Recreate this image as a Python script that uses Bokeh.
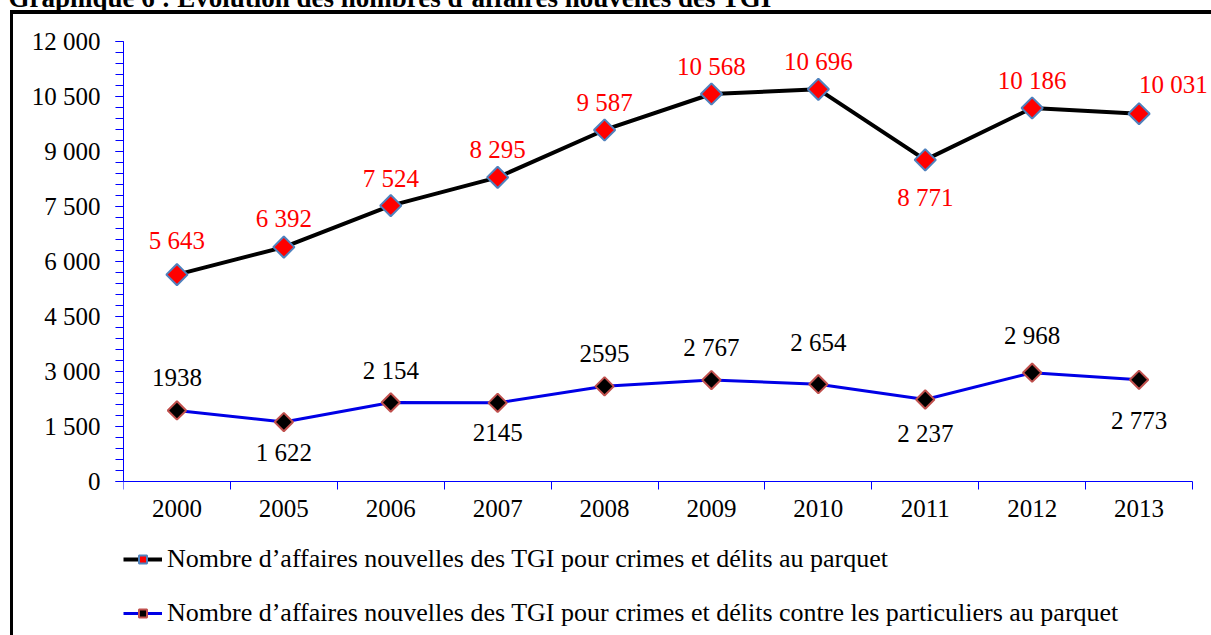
from bokeh.plotting import figure
from bokeh.models import (ColumnDataSource, Range1d, FixedTicker, LabelSet, Legend,
                          LegendItem, Title)
from bokeh.core.properties import value
from bokeh.embed import file_html
from bokeh.resources import INLINE
import numpy as np

# ---------------- data ----------------
years = ["2000", "2005", "2006", "2007", "2008", "2009", "2010", "2011", "2012", "2013"]
crimes_delits = [5643, 6392, 7524, 8295, 9587, 10568, 10696, 8771, 10186, 10031]
crimes_particuliers = [1938, 1622, 2154, 2145, 2595, 2767, 2654, 2237, 2968, 2773]
labels_delits = ["5 643", "6 392", "7 524", "8 295", "9 587", "10 568", "10 696", "8 771", "10 186", "10 031"]
labels_particuliers = ["1938", "1 622", "2 154", "2145", "2595", "2 767", "2 654", "2 237", "2 968", "2 773"]
y_ticks = [0, 1500, 3000, 4500, 6000, 7500, 9000, 10500, 12000]
y_tick_labels = ["0", "1 500", "3 000", "4 500", "6 000", "7 500", "9 000", "10 500", "12 000"]
series_names = [
    "Nombre d\u2019affaires nouvelles des TGI pour crimes et délits au parquet",
    "Nombre d\u2019affaires nouvelles des TGI pour crimes et délits contre les particuliers au parquet",
]
title_text = "Graphique 6 : Évolution des nombres d\u2019affaires nouvelles des TGI"

# label placement (style)
place_delits = ["above"] * 7 + ["below"] + ["above", "above"]
place_particuliers = ["above", "below", "above", "below", "above", "above", "above", "below", "above", "below"]
nudge_delits = [7, 1, 0, 0, 0, 0, 0, 0, 0, 2]          # extra px upwards
nudge_particuliers = [0, 4, 0, 0, 0, 0, 9, 0, 5, -6]
align_delits = ["center"] * 9 + ["left"]
align_particuliers = ["center"] * 10

FONT = "Liberation Serif, Times New Roman, serif"
AXIS_BLUE = "#0000FF"

# ---------------- layout (pixels of the page) ----------------
W = 1211
SHIFT = 50                 # canvas pulled up so the title is cut as in the original
LEFT, AXIS_END = 123, 1192
Y_TOP, Y_ZERO, FRAME_BOTTOM = 41, 481, 640
TITLE_BOTTOM = 12
Y_MAX = 12000

n = len(years)
xpos = [i + 0.5 for i in range(n)]
cat_px = (AXIS_END - LEFT) / n
x_end = (W - LEFT) / cat_px
px_per_unit = (Y_ZERO - Y_TOP) / Y_MAX
y_start = -(FRAME_BOTTOM - Y_ZERO) / px_per_unit


def offsets(places, nudges, up, down):
    return [(up if p == "above" else -down) + d for p, d in zip(places, nudges)]


def baselines(places):
    return ["alphabetic" if p == "above" else "top" for p in places]


src1 = ColumnDataSource(dict(x=xpos, y=crimes_delits, lab=labels_delits,
                             off=offsets(place_delits, nudge_delits, 19, 24),
                             base=baselines(place_delits), align=align_delits))
src2 = ColumnDataSource(dict(x=xpos, y=crimes_particuliers, lab=labels_particuliers,
                             off=offsets(place_particuliers, nudge_particuliers, 24, 21),
                             base=baselines(place_particuliers), align=align_particuliers))

standoff = 2 * (Y_TOP - TITLE_BOTTOM)
p = figure(frame_width=W - LEFT, frame_height=FRAME_BOTTOM - Y_TOP,
           output_backend="svg", toolbar_location=None,
           x_range=Range1d(0, x_end), y_range=Range1d(y_start, Y_MAX),
           min_border_left=LEFT, min_border_right=0, min_border_top=Y_TOP + SHIFT,
           min_border_bottom=0)
p.title = Title(text=title_text, align="left", offset=8 - LEFT, standoff=standoff,
                text_font=FONT, text_font_size="27px", text_font_style="bold",
                text_color="black")
p.outline_line_color = None
p.xgrid.visible = False
p.ygrid.visible = False
p.background_fill_color = None
p.border_fill_color = None
p.styles = {
    "margin-top": f"-{SHIFT}px",
    "background": (f"linear-gradient(#000, #000) 10px {SHIFT + 10}px / 3px 100% no-repeat, "
                   f"linear-gradient(#000, #000) 10px {SHIFT + 10}px / 100% 4px no-repeat, #fff"),
}

# x axis: drawn at y = 0, labels at category centres, ticks at boundaries
xa = p.xaxis[0]
xa.fixed_location = 0
xa.ticker = FixedTicker(ticks=xpos, minor_ticks=list(range(n + 1)))
xa.major_label_overrides = {x: y for x, y in zip(xpos, years)}
xa.bounds = (0, n)
xa.major_tick_out = 0
xa.major_tick_in = 0
xa.minor_tick_out = 8
xa.minor_tick_in = 0
xa.minor_tick_line_color = AXIS_BLUE
xa.axis_line_color = AXIS_BLUE
xa.major_label_text_font = FONT
xa.major_label_text_font_size = "25px"
xa.major_label_text_color = "black"
xa.major_label_standoff = 10

ya = p.yaxis[0]
ya.ticker = FixedTicker(ticks=y_ticks, minor_ticks=list(range(0, Y_MAX + 1, 300)))
ya.major_label_overrides = {t: l for t, l in zip(y_ticks, y_tick_labels)}
ya.bounds = (0, Y_MAX)
ya.major_tick_out = 8
ya.major_tick_in = 0
ya.minor_tick_out = 8
ya.minor_tick_in = 0
ya.major_tick_line_color = AXIS_BLUE
ya.minor_tick_line_color = AXIS_BLUE
ya.axis_line_color = AXIS_BLUE
ya.major_label_text_font = FONT
ya.major_label_text_font_size = "25px"
ya.major_label_text_color = "black"
ya.major_label_standoff = 15

# series
l1 = p.line("x", "y", source=src1, line_color="black", line_width=4)
s1 = p.scatter("x", "y", source=src1, marker="square", angle=np.pi / 4, size=15,
               fill_color="#FF0000", line_color="#4F81BD", line_width=2)
l2 = p.line("x", "y", source=src2, line_color="#0000E6", line_width=3)
s2 = p.scatter("x", "y", source=src2, marker="square", angle=np.pi / 4, size=13,
               fill_color="black", line_color="#C0504D", line_width=2)

p.add_layout(LabelSet(x="x", y="y", text="lab", source=src1, y_offset="off",
                      text_baseline="base", text_align="align",
                      text_font=value(FONT), text_font_size=value("25px"), text_color="#FF0000"))
p.add_layout(LabelSet(x="x", y="y", text="lab", source=src2, y_offset="off",
                      text_baseline="base", text_align="align",
                      text_font=value(FONT), text_font_size=value("25px"), text_color="black"))

legend = Legend(items=[LegendItem(label=series_names[0], renderers=[l1, s1]),
                       LegendItem(label=series_names[1], renderers=[l2, s2])],
                location=(0, 12), orientation="vertical",
                glyph_width=39, glyph_height=20, label_standoff=5, spacing=24,
                padding=0, margin=0, border_line_alpha=0, background_fill_alpha=0,
                label_text_font=FONT, label_text_font_size="26px", label_text_color="black")
p.add_layout(legend)

open("out.html", "w").write(file_html(p, INLINE))
